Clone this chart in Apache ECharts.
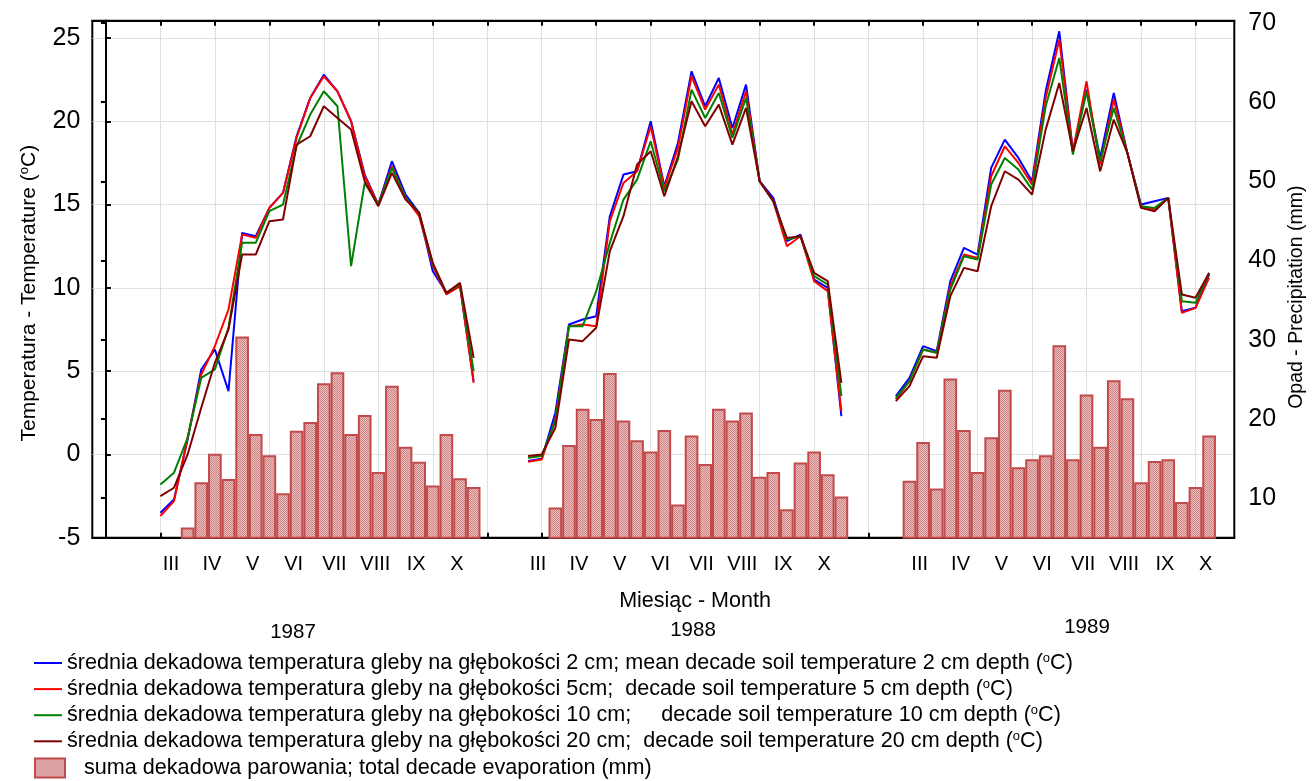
<!DOCTYPE html>
<html>
<head>
<meta charset="utf-8">
<script src="https://cdn.jsdelivr.net/npm/echarts@6/dist/echarts.min.js"></script>
<style>
  html, body { margin: 0; padding: 0; background: #ffffff; }
  #chart { width: 1315px; height: 781px; }
</style>
</head>
<body>
<div id="chart"></div>
<script>
// Ten-day periods (decades) from March to October, three per month.
const years = ['1987', '1988', '1989'];
const monthLabels = ['III', 'IV', 'V', 'VI', 'VII', 'VIII', 'IX', 'X'];
// case number of the first decade of each season on the shared x scale
const yearStart = [4, 31, 58];

// mean decade soil temperature, 2 cm depth (°C)
const t2_1987 = [-3.5, -2.7, 0.9, 5.1, 6.3, 3.8, 13.3, 13.1, 14.8, 15.7, 19.1, 21.4, 22.8, 21.8, 20.0, 16.8, 15.0, 17.6, 15.6, 14.5, 11.0, 9.7, 10.1, 4.4];
const t2_1988 = [-0.4, -0.26, 2.5, 7.8, 8.1, 8.3, 14.3, 16.8, 17.0, 20.0, 16.1, 18.7, 23.0, 20.9, 22.6, 19.6, 22.2, 16.4, 15.4, 12.8, 13.2, 10.5, 10.0, 2.3];
const t2_1989 = [3.5, 4.6, 6.5, 6.2, 10.4, 12.4, 12.0, 17.2, 18.9, 17.8, 16.4, 21.8, 25.4, 18.2, 21.9, 17.8, 21.7, 18.1, 15.0, 15.2, 15.4, 8.6, 8.8, 10.8];

// 5 cm depth (°C)
const t5_1987 = [-3.7, -2.8, 1.0, 4.8, 6.5, 8.7, 13.2, 13.0, 14.8, 15.7, 19.0, 21.4, 22.7, 21.8, 20.0, 16.7, 15.0, 17.3, 15.4, 14.3, 11.3, 9.6, 10.1, 4.3];
const t5_1988 = [-0.44, -0.3, 2.1, 7.7, 7.8, 7.7, 14.0, 16.3, 17.0, 19.7, 16.0, 18.4, 22.7, 20.7, 22.2, 19.2, 21.8, 16.4, 15.2, 12.5, 13.1, 10.4, 9.8, 2.6];
const t5_1989 = [3.3, 4.4, 6.3, 6.1, 10.1, 12.0, 11.8, 16.7, 18.5, 17.5, 16.2, 21.4, 24.9, 18.2, 22.4, 17.4, 21.3, 18.1, 14.9, 14.7, 15.4, 8.5, 8.8, 10.6];

// 10 cm depth (°C)
const t10_1987 = [-1.8, -1.1, 1.0, 4.6, 5.1, 7.6, 12.7, 12.7, 14.6, 15.0, 18.5, 20.4, 21.8, 20.9, 11.3, 16.3, 15.0, 17.2, 15.4, 14.5, 11.4, 9.7, 10.2, 5.0];
const t10_1988 = [-0.2, -0.1, 2.0, 7.7, 7.7, 9.8, 12.7, 15.3, 16.5, 18.8, 15.8, 17.7, 21.9, 20.2, 21.7, 19.0, 21.4, 16.4, 15.2, 12.9, 13.1, 10.7, 10.2, 3.5];
const t10_1989 = [3.4, 4.4, 6.3, 6.1, 9.9, 11.9, 11.7, 16.2, 17.8, 17.1, 15.9, 20.9, 23.8, 18.0, 21.8, 17.6, 20.8, 18.1, 14.9, 14.8, 15.4, 9.2, 9.1, 10.9];

// 20 cm depth (°C)
const t20_1987 = [-2.5, -2.0, 0.0, 2.8, 5.5, 7.5, 12.0, 12.0, 14.0, 14.1, 18.6, 19.1, 20.9, 20.2, 19.5, 16.4, 14.9, 16.9, 15.3, 14.5, 11.5, 9.7, 10.3, 5.8];
const t20_1988 = [-0.1, 0.0, 1.6, 6.9, 6.8, 7.6, 12.2, 14.3, 17.4, 18.2, 15.5, 17.9, 21.2, 19.7, 21.0, 18.6, 20.8, 16.4, 15.2, 13.0, 13.1, 10.9, 10.4, 4.3];
const t20_1989 = [3.2, 4.1, 5.9, 5.8, 9.5, 11.2, 11.0, 14.9, 17.0, 16.5, 15.6, 19.5, 22.3, 18.2, 20.8, 17.0, 20.1, 18.1, 14.8, 14.6, 15.4, 9.6, 9.4, 10.9];

// total decade evaporation (mm); null = no measurement
const evap_1987 = [null, null, 6.3, 12.0, 15.6, 12.4, 30.4, 18.1, 15.4, 10.6, 18.5, 19.6, 24.5, 25.9, 18.1, 20.5, 13.3, 24.2, 16.5, 14.6, 11.6, 18.1, 12.5, 11.4];
const evap_1988 = [null, null, 8.8, 16.7, 21.3, 20.0, 25.8, 19.8, 17.3, 15.9, 18.6, 9.2, 17.9, 14.3, 21.3, 19.8, 20.8, 12.7, 13.3, 8.6, 14.5, 15.9, 13.0, 10.2];
const evap_1989 = [null, 12.2, 17.1, 11.2, 25.1, 18.6, 13.3, 17.7, 23.7, 13.9, 14.9, 15.4, 29.3, 14.9, 23.1, 16.5, 24.9, 22.6, 12.0, 14.7, 14.9, 9.5, 11.4, 17.9];

// y-axis tick labels
const tempTicks = [-5, 0, 5, 10, 15, 20, 25];
const evapTicks = [10, 20, 30, 40, 50, 60, 70];

const seriesNames = [
  'średnia dekadowa temperatura gleby na głębokości 2 cm; mean decade soil temperature 2 cm depth (°C)',
  'średnia dekadowa temperatura gleby na głębokości 5cm;  decade soil temperature 5 cm depth (°C)',
  'średnia dekadowa temperatura gleby na głębokości 10 cm;     decade soil temperature 10 cm depth (°C)',
  'średnia dekadowa temperatura gleby na głębokości 20 cm;  decade soil temperature 20 cm depth (°C)',
  'suma dekadowa parowania; total decade evaporation (mm)'
];

// ---- build [x, y] pairs on the case-number axis ----
function joinYears(perYear) {
  const out = [];
  perYear.forEach((vals, y) => {
    if (y > 0) out.push([yearStart[y] - 1, null]); // break the line between seasons
    vals.forEach((v, i) => out.push([yearStart[y] + i, v]));
  });
  return out;
}
function barPoints(perYear) {
  const out = [];
  perYear.forEach((vals, y) => vals.forEach((v, i) => {
    if (v !== null) out.push([yearStart[y] + i, v]);
  }));
  return out;
}

const tempSeries = [
  [t2_1987, t2_1988, t2_1989],
  [t5_1987, t5_1988, t5_1989],
  [t10_1987, t10_1988, t10_1989],
  [t20_1987, t20_1988, t20_1989]
];
const lineColors = ['#0000ff', '#ff0000', '#008000', '#800000'];

// month label positions: middle decade of each month, slightly shifted per season
const labelShift = [-0.22, -0.27, 0.75];
const monthPos = [];
const monthAt = {};
years.forEach((yr, y) => monthLabels.forEach((m, k) => {
  const p = +(yearStart[y] + 3 * k + 1 + labelShift[y]).toFixed(2);
  monthPos.push(p);
  monthAt[p.toFixed(2)] = m;
}));
const gridTicks = [];
for (let v = 0; v <= 80; v += 4) gridTicks.push(v);

// dotted fill for the evaporation bars
function dotPattern() {
  const c = document.createElement('canvas');
  c.width = 2; c.height = 2;
  const g = c.getContext('2d');
  g.fillStyle = 'rgb(236,190,190)'; g.fillRect(0, 0, 2, 2);
  g.fillStyle = 'rgb(206,132,132)'; g.fillRect(0, 0, 1, 1); g.fillRect(1, 1, 1, 1);
  return { image: c, repeat: 'repeat' };
}
const barFill = dotPattern();

const FONT = 'Liberation Sans, Arial, sans-serif';
const supRich = {
  s: { fontSize: 13, lineHeight: 13, verticalAlign: 'top', fontFamily: FONT, color: '#000' }
};
const GRID = { left: 92.3, right: 76.8, top: 20.7, bottom: 243.3 };
const X_MIN = -1, X_MAX = 82.85;

const chart = echarts.init(document.getElementById('chart'), null, { renderer: 'canvas' });

const series = [];
series.push({
  name: seriesNames[4],
  type: 'bar',
  xAxisIndex: 0,
  yAxisIndex: 1,
  data: barPoints([evap_1987, evap_1988, evap_1989]),
  barWidth: (1315 - GRID.left - GRID.right) / (X_MAX - X_MIN),
  itemStyle: { color: barFill, borderColor: '#c24a4a', borderWidth: 2 },
  z: 1,
  silent: true
});
tempSeries.forEach((arrs, k) => {
  series.push({
    name: seriesNames[k],
    type: 'line',
    xAxisIndex: 0,
    yAxisIndex: 0,
    data: joinYears(arrs),
    symbol: 'none',
    connectNulls: false,
    lineStyle: { color: lineColors[k], width: 2 },
    itemStyle: { color: lineColors[k] },
    z: 3 + k,
    silent: true
  });
});

const legendText = {
  fontFamily: FONT, fontSize: 21.6, color: '#000', lineHeight: 22,
  rich: supRich
};

chart.setOption({
  animation: false,
  backgroundColor: '#ffffff',
  grid: Object.assign({ show: true, borderColor: '#000', borderWidth: 2, backgroundColor: 'transparent' }, GRID),
  xAxis: [{
    type: 'value', position: 'bottom', min: X_MIN, max: X_MAX,
    axisLine: { show: true, onZero: false, lineStyle: { color: '#000', width: 2 } },
    axisTick: { show: true, inside: true, length: 5, customValues: gridTicks, lineStyle: { color: '#000', width: 2 } },
    splitLine: { show: true, lineStyle: { color: '#c4c4c4', type: 'dotted', width: 1 } },
    axisLabel: {
      customValues: monthPos, margin: 17,
      fontFamily: FONT, fontSize: 20, color: '#000',
      formatter: v => monthAt[(+v).toFixed(2)] || ''
    }
  }, {
    type: 'value', position: 'top', min: X_MIN, max: X_MAX,
    axisLine: { show: true, onZero: false, lineStyle: { color: '#000', width: 2 } },
    axisTick: { show: true, inside: true, length: 5, customValues: gridTicks, lineStyle: { color: '#000', width: 2 } },
    splitLine: { show: false },
    axisLabel: { show: false }
  }],
  yAxis: [{
    type: 'value', position: 'left', min: -5, max: -5 + 517 / 16.657,
    name: 'Temperatura - Temperature ({s|o}C)',
    nameLocation: 'middle', nameRotate: 90, nameGap: 53,
    nameTextStyle: { fontFamily: FONT, fontSize: 21, color: '#000', rich: supRich, padding: [0, 28, 0, 0] },
    axisLine: { show: true, lineStyle: { color: '#000', width: 2 } },
    axisTick: { show: true, inside: true, length: 5, customValues: tempTicks, lineStyle: { color: '#000', width: 2 } },
    splitLine: { show: true, lineStyle: { color: '#c4c4c4', type: 'dotted', width: 1 } },
    axisLabel: { customValues: tempTicks, margin: 12, fontFamily: FONT, fontSize: 25, color: '#000' }
  }, {
    type: 'value', position: 'right', min: 5, max: 5 + 517 / 7.918,
    name: 'Opad - Precipitation (mm)',
    nameLocation: 'middle', nameRotate: 90, nameGap: 51,
    nameTextStyle: { fontFamily: FONT, fontSize: 19.5, color: '#000', padding: [0, 36, 0, 0] },
    axisLine: { show: true, lineStyle: { color: '#000', width: 2 } },
    axisTick: { show: true, inside: true, length: 5, customValues: evapTicks, lineStyle: { color: '#000', width: 2 } },
    splitLine: { show: false },
    axisLabel: { customValues: evapTicks, margin: 14, fontFamily: FONT, fontSize: 25, color: '#000' }
  }],
  legend: [{
    data: seriesNames.slice(0, 4).map(n => ({ name: n, icon: 'rect' })),
    orient: 'vertical', left: 34, top: 652, padding: 0,
    itemWidth: 28, itemHeight: 2, itemGap: 4.1,
    selectedMode: false,
    textStyle: legendText,
    formatter: n => n.replace('(°C)', '({s|o}C)')
  }, {
    data: [{ name: seriesNames[4], icon: 'rect' }],
    orient: 'vertical', left: 34, top: 757, padding: 0,
    itemWidth: 30, itemHeight: 19, itemGap: 0,
    selectedMode: false,
    textStyle: Object.assign({}, legendText, { padding: [0, 0, 0, 14] })
  }],
  graphic: [
    { type: 'text', x: 695, y: 601, style: { text: 'Miesiąc - Month', font: '21.5px ' + FONT, fill: '#000', align: 'center', verticalAlign: 'middle' } },
    { type: 'text', x: 293, y: 632, style: { text: years[0], font: '20.5px ' + FONT, fill: '#000', align: 'center', verticalAlign: 'middle' } },
    { type: 'text', x: 693, y: 630, style: { text: years[1], font: '20.5px ' + FONT, fill: '#000', align: 'center', verticalAlign: 'middle' } },
    { type: 'text', x: 1087, y: 627, style: { text: years[2], font: '20.5px ' + FONT, fill: '#000', align: 'center', verticalAlign: 'middle' } }
  ],
  series: series
});
</script>
</body>
</html>
